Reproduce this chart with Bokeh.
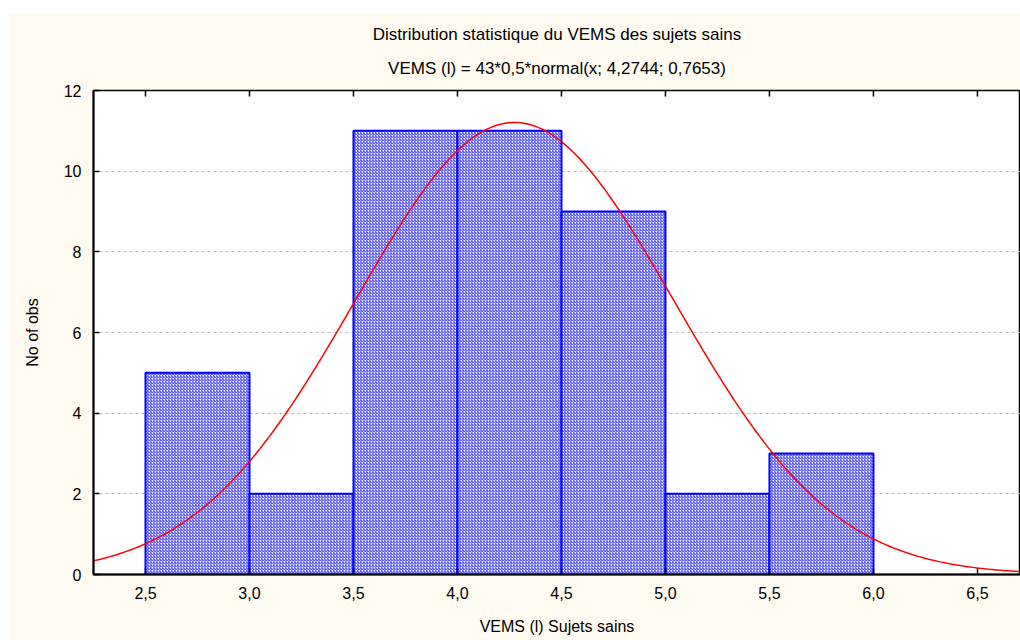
import numpy as np
from bokeh.plotting import figure
from bokeh.models import (FixedTicker, Title, Spacer, Range1d)
from bokeh.layouts import column, row
from bokeh.embed import file_html
from bokeh.resources import INLINE

# ---- data ----
bin_left = [2.5, 3.0, 3.5, 4.0, 4.5, 5.0, 5.5]
bin_right = [3.0, 3.5, 4.0, 4.5, 5.0, 5.5, 6.0]
counts = [5, 2, 11, 11, 9, 2, 3]
x_ticks = [2.5, 3.0, 3.5, 4.0, 4.5, 5.0, 5.5, 6.0, 6.5]
x_tick_labels = ["2,5", "3,0", "3,5", "4,0", "4,5", "5,0", "5,5", "6,0", "6,5"]
y_ticks = [0, 2, 4, 6, 8, 10, 12]
n_obs = 43
bin_width = 0.5
mu = 4.2744
sigma = 0.7653

FONT = "Liberation Sans"
CREAM = "#FFFAF0"

y_max = 12
p = figure(width=1012, height=628, x_range=Range1d(2.25, 6.707), y_range=Range1d(0, y_max),
           output_backend="svg", toolbar_location=None,
           background_fill_color="white", border_fill_color=CREAM,
           min_border_left=85, min_border_right=0, min_border_top=78, min_border_bottom=66,
           x_axis_label="VEMS (l) Sujets sains", y_axis_label="No of obs")
p.outline_line_color = "black"
p.outline_line_width = 1.5

# grid
p.xgrid.grid_line_color = None
p.ygrid.ticker = FixedTicker(ticks=y_ticks)
p.ygrid.grid_line_color = "#BBBBBB"
p.ygrid.grid_line_dash = "3 3"

# bars
p.quad(left=bin_left, right=bin_right, top=counts, bottom=0,
       fill_color="white", line_color="#0000FF", line_width=2,
       hatch_pattern="right_diagonal_line", hatch_color="#3030FF",
       hatch_scale=3, hatch_weight=1)

# fitted normal curve (formula given in the chart subtitle)
xs = np.linspace(2.25, 6.75, 400)
ys = n_obs * bin_width * np.exp(-0.5 * ((xs - mu) / sigma) ** 2) / (sigma * np.sqrt(2 * np.pi))
p.line(xs, ys, line_color="#FF0000", line_width=1.5)

# mirrored inward ticks on the top edge
tick_len = 6 * y_max / 484.0
p.segment(x0=x_ticks, y0=[y_max] * len(x_ticks), x1=x_ticks,
          y1=[y_max - tick_len] * len(x_ticks), line_color="black", line_width=1.5)

# axes
for ax in (p.xaxis[0], p.yaxis[0]):
    ax.axis_line_color = "black"
    ax.axis_line_width = 2
    ax.major_tick_in = 6
    ax.major_tick_out = 0
    ax.minor_tick_line_color = None
    ax.major_tick_line_color = "black"
    ax.major_tick_line_width = 1.5
    ax.major_label_text_font = FONT
    ax.major_label_text_font_size = "16px"
    ax.major_label_text_color = "black"
    ax.axis_label_text_font = FONT
    ax.axis_label_text_font_size = "16px"
    ax.axis_label_text_font_style = "normal"
    ax.axis_label_text_color = "black"

p.xaxis[0].ticker = FixedTicker(ticks=x_ticks)
p.xaxis[0].major_label_overrides = {t: l for t, l in zip(x_ticks, x_tick_labels)}
p.xaxis[0].major_label_standoff = 12
p.xaxis[0].axis_label_standoff = 16
p.yaxis[0].ticker = FixedTicker(ticks=y_ticks)
p.yaxis[0].major_label_standoff = 12
p.yaxis[0].axis_label_standoff = 20

t2 = Title(text="VEMS (l) = 43*0,5*normal(x; 4,2744; 0,7653)", align="center",
           text_font=FONT, text_font_size="17px", text_font_style="normal",
           text_color="black", standoff=26)
t1 = Title(text="Distribution statistique du VEMS des sujets sains", align="center",
           text_font=FONT, text_font_size="17px", text_font_style="normal",
           text_color="black", standoff=0)
p.add_layout(t2, "above")
p.add_layout(t1, "above")

layout = column(Spacer(height=12), row(Spacer(width=8), p, sizing_mode="fixed"), sizing_mode="fixed")
layout.spacing = 0

open("out.html", "w").write(file_html(layout, INLINE))
